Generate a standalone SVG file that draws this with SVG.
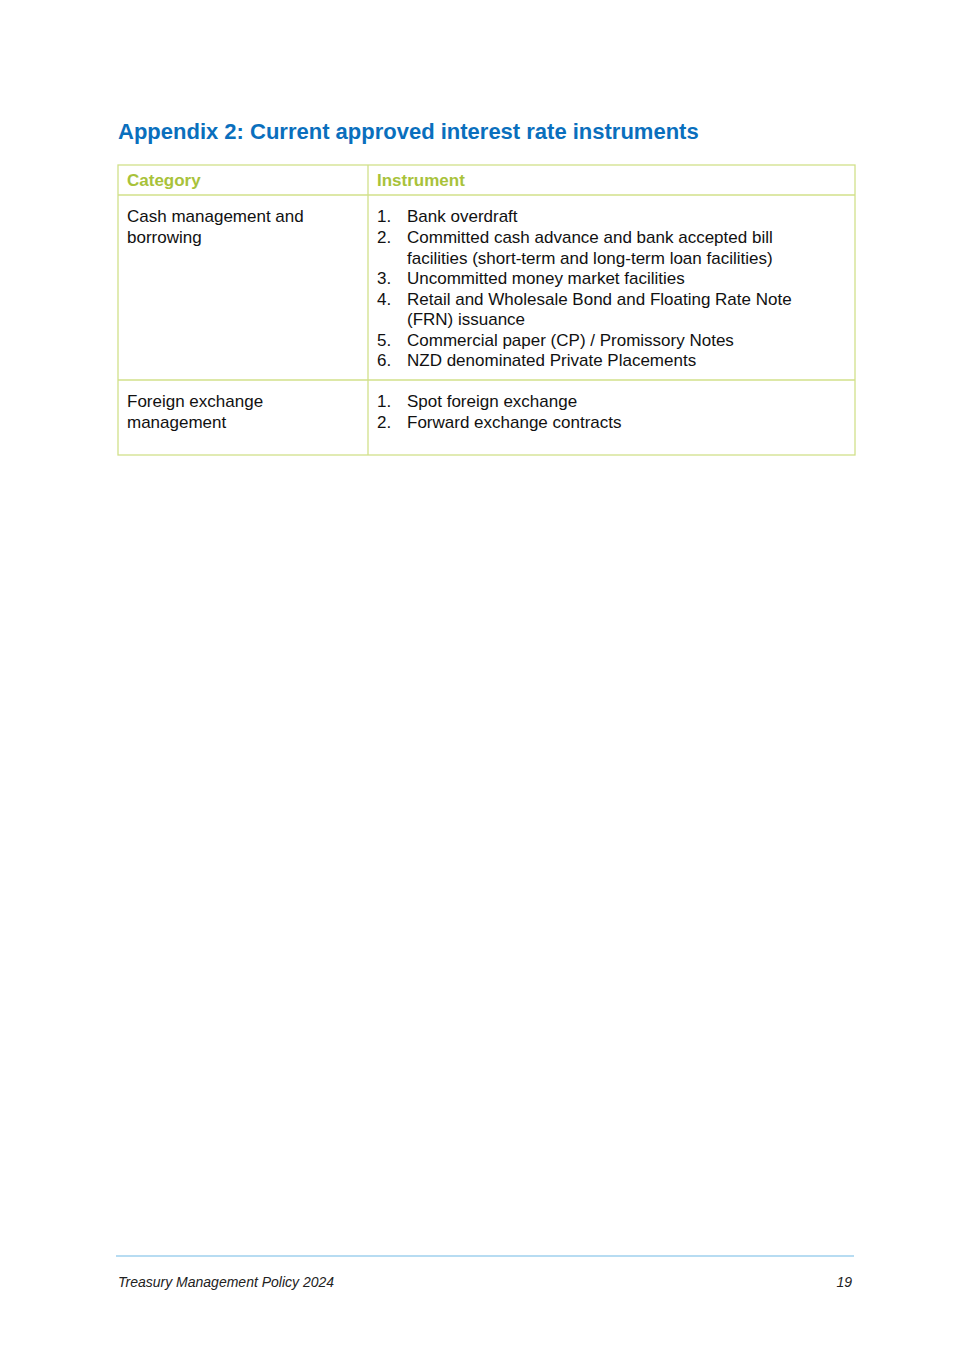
<svg xmlns="http://www.w3.org/2000/svg" width="967" height="1369" viewBox="0 0 967 1369">
<style>
.t{font-family:"Liberation Sans",Arial,sans-serif;font-size:17px;fill:#111}
.h{font-family:"Liberation Sans",Arial,sans-serif;font-size:17px;font-weight:bold;fill:#a8c23a}
.g{stroke:#d2e08a;stroke-width:1.3;fill:none}
.f{font-family:"Liberation Sans",Arial,sans-serif;font-size:14px;font-style:italic;fill:#222}
</style>
<rect width="967" height="1369" fill="#fff"/>
<text x="118" y="139" font-family="Liberation Sans,Arial,sans-serif" font-size="22" font-weight="bold" fill="#0a6fbd">Appendix 2: Current approved interest rate instruments</text>
<g id="table">
<rect class="g" x="118" y="165" width="737" height="290"/>
<line class="g" x1="118" y1="195" x2="855" y2="195"/>
<line class="g" x1="118" y1="380" x2="855" y2="380"/>
<line class="g" x1="368" y1="165" x2="368" y2="455"/>
<text class="h" x="127" y="186">Category</text>
<text class="h" x="377" y="186">Instrument</text>
<text class="t" x="127" y="222">Cash management and</text>
<text class="t" x="127" y="243">borrowing</text>
<g class="t">
<text class="t" x="377" y="222">1.</text><text class="t" x="407" y="222">Bank overdraft</text>
<text class="t" x="377" y="243">2.</text><text class="t" x="407" y="243">Committed cash advance and bank accepted bill</text>
<text class="t" x="407" y="264">facilities (short-term and long-term loan facilities)</text>
<text class="t" x="377" y="284">3.</text><text class="t" x="407" y="284">Uncommitted money market facilities</text>
<text class="t" x="377" y="305">4.</text><text class="t" x="407" y="305">Retail and Wholesale Bond and Floating Rate Note</text>
<text class="t" x="407" y="325">(FRN) issuance</text>
<text class="t" x="377" y="346">5.</text><text class="t" x="407" y="346">Commercial paper (CP) / Promissory Notes</text>
<text class="t" x="377" y="366">6.</text><text class="t" x="407" y="366">NZD denominated Private Placements</text>
</g>
<text class="t" x="127" y="407">Foreign exchange</text>
<text class="t" x="127" y="428">management</text>
<text class="t" x="377" y="407">1.</text><text class="t" x="407" y="407">Spot foreign exchange</text>
<text class="t" x="377" y="428">2.</text><text class="t" x="407" y="428">Forward exchange contracts</text>
</g>
<line x1="116" y1="1256" x2="854" y2="1256" stroke="#9fd0ee" stroke-width="1.5"/>
<text class="f" x="118" y="1287">Treasury Management Policy 2024</text>
<text class="f" x="852" y="1287" text-anchor="end">19</text>
</svg>
